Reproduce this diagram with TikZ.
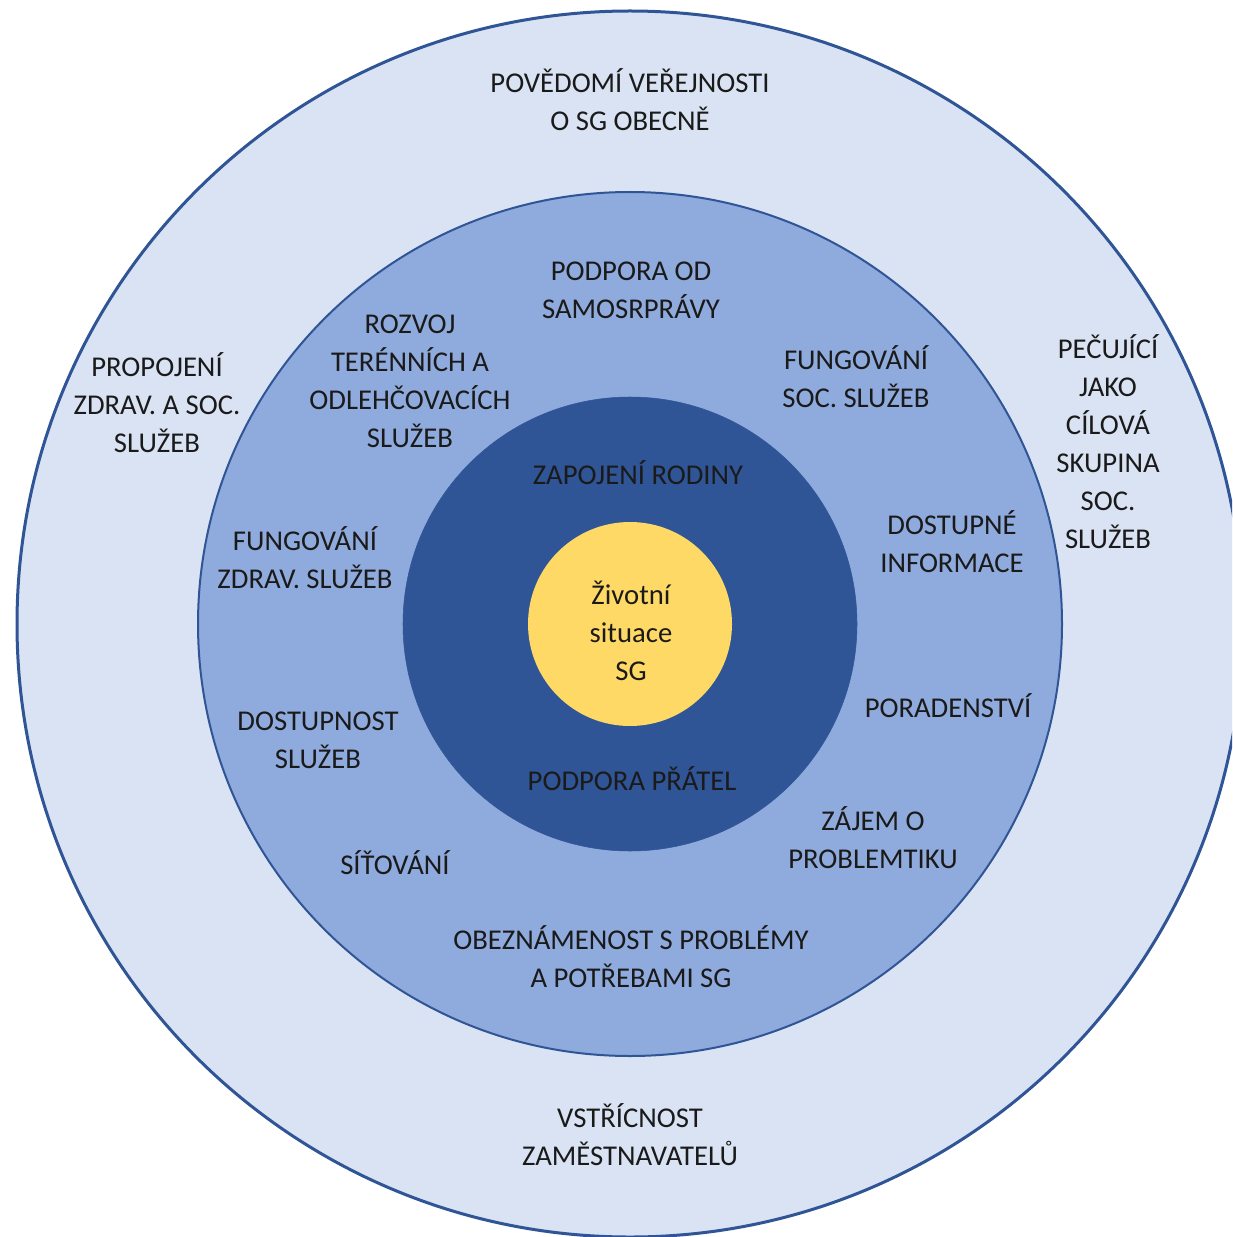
\documentclass[tikz,border=0pt]{standalone}
\usepackage{fontspec}
\setmainfont{Carlito}
\usepackage{xcolor}
\usepackage{tikz}

\definecolor{ringout}{HTML}{DAE3F3}
\definecolor{ringmid}{HTML}{8FAADC}
\definecolor{ringin}{HTML}{2F5597}
\definecolor{core}{HTML}{FFD966}
\definecolor{edge}{HTML}{2F5597}
\definecolor{ink}{HTML}{1A1A1A}

\begin{document}
\begin{tikzpicture}[x=0.75pt,y=-0.75pt,
    ring/.style={circle,inner sep=0pt,draw=edge},
    lbl/.style={align=center,text=ink,inner sep=0pt,yshift=1.5pt,
        font=\fontsize{21.5}{28.5}\selectfont}]
    \useasboundingbox (0,0) rectangle (1232,1237);
    \clip (0,0) rectangle (1232,1237);
    % rings
    \node[ring,fill=ringout,line width=2.25pt,minimum size=919.5pt] (outer) at (630,624) {};
    \node[ring,fill=ringmid,line width=1.5pt,minimum size=648pt] (mid) at (630,624) {};
    \node[ring,fill=ringin,draw=ringin,minimum size=340.5pt] (inner) at (630,624) {};
    \node[circle,fill=core,inner sep=0pt,minimum size=153pt] (core) at (630,624) {};
    % outer ring
    \node[lbl] (public) at (630,102) {POVĚDOMÍ VEŘEJNOSTI\\O SG OBECNĚ};
    \node[lbl] (link) at (157,405) {PROPOJENÍ\\ZDRAV. A SOC.\\SLUŽEB};
    \node[lbl] (carers) at (1108,444) {PEČUJÍCÍ\\JAKO\\CÍLOVÁ\\SKUPINA\\SOC.\\SLUŽEB};
    \node[lbl] (employers) at (630,1137) {VSTŘÍCNOST\\ZAMĚSTNAVATELŮ};
    % middle ring
    \node[lbl] (govt) at (631,292) {PODPORA OD\\SAMOSRPRÁVY};
    \node[lbl] (respite) at (410,383) {ROZVOJ\\TERÉNNÍCH A\\ODLEHČOVACÍCH\\SLUŽEB};
    \node[lbl] (social) at (856,379) {FUNGOVÁNÍ\\SOC. SLUŽEB};
    \node[lbl] (health) at (305,560) {FUNGOVÁNÍ\\ZDRAV. SLUŽEB};
    \node[lbl] (info) at (952,544) {DOSTUPNÉ\\INFORMACE};
    \node[lbl] (advice) at (948,708) {PORADENSTVÍ};
    \node[lbl] (access) at (318,742) {DOSTUPNOST\\SLUŽEB};
    \node[lbl] (interest) at (873,840) {ZÁJEM O\\PROBLEMTIKU};
    \node[lbl] (network) at (395,865) {SÍŤOVÁNÍ};
    \node[lbl] (aware) at (631,959) {OBEZNÁMENOST S PROBLÉMY\\A POTŘEBAMI SG};
    % inner ring
    \node[lbl] (family) at (638,475) {ZAPOJENÍ RODINY};
    \node[lbl] (friends) at (632,781) {PODPORA PŘÁTEL};
    % core
    \node[lbl] (life) at (631,633) {Životní\\situace\\SG};
\end{tikzpicture}
\end{document}
